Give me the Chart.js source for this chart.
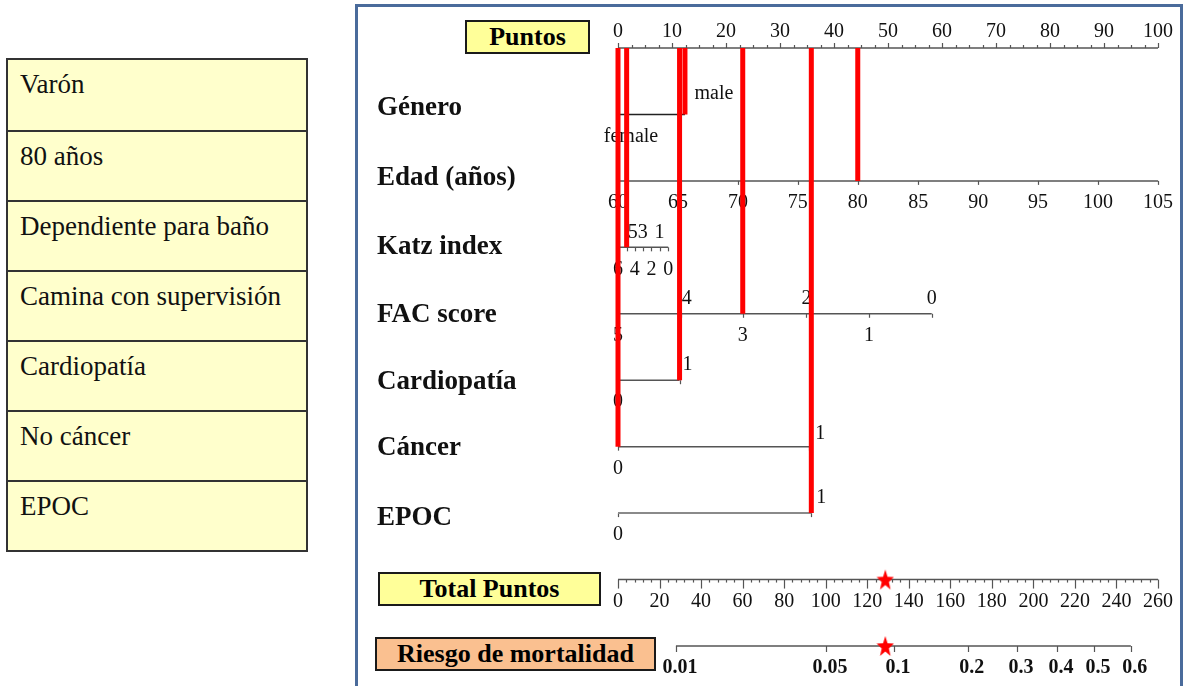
<!DOCTYPE html>
<html>
<head>
<meta charset="utf-8">
<title>Nomograma de riesgo de mortalidad</title>
<script src="https://cdn.jsdelivr.net/npm/chart.js@4.4.1/dist/chart.umd.min.js"></script>
<style>
  html, body { margin: 0; padding: 0; background: #fff; width: 1187px; height: 686px; overflow: hidden; }
  body { font-family: "Liberation Serif", "Times New Roman", serif; position: relative; }
  #frame { position: absolute; left: 355px; top: 4px; width: 822px; height: 720px; border: 3px solid #4a6b9b; }
  #plot { position: absolute; left: 0; top: 0; }
  .tag { position: absolute; box-sizing: border-box; border: 2px solid #1a1a1a; font-weight: bold;
         font-size: 26px; text-align: center; line-height: 29px; color: #000; }
  #profile { position: absolute; left: 6px; top: 58px; width: 302px; box-sizing: border-box;
             border: 2px solid #333; background: #ffffcc; }
  #profile div { height: 70px; border-top: 2px solid #333; padding: 9px 0 0 12px; box-sizing: border-box;
                 font-size: 27px; line-height: 30px; color: #111; }
  #profile div:first-child { border-top: none; padding-top: 9px; }
</style>
</head>
<body>
<div id="profile"></div>
<div id="frame"></div>
<canvas id="plot" width="1187" height="686"></canvas>
<div class="tag" style="left:465px;top:20px;width:125px;height:34px;background:#ffff99;">Puntos</div>
<div class="tag" style="left:378px;top:572px;width:223px;height:34px;background:#ffff99;">Total Puntos</div>
<div class="tag" style="left:375px;top:637px;width:281px;height:34px;background:#fac090;">Riesgo de mortalidad</div>
<script>
// ---- Nomogram scales: level -> points (0-100) ----
const pointTicks   = [0, 10, 20, 30, 40, 50, 60, 70, 80, 90, 100];
const sexLevels    = ['female', 'male'];
const sexPoints    = [0, 12.4];
const ageLevels    = [60, 65, 70, 75, 80, 85, 90, 95, 100, 105];
const agePoints    = [0, 11.1, 22.2, 33.3, 44.4, 55.6, 66.7, 77.8, 88.9, 100];
const katzLevels   = [6, 5, 4, 3, 2, 1, 0];
const katzPoints   = [0, 1.6, 3.1, 4.6, 6.2, 7.7, 9.3];
const facLevels    = [5, 4, 3, 2, 1, 0];
const facPoints    = [0, 11.6, 23.1, 34.9, 46.5, 58.1];
const cardioLevels = [0, 1];
const cardioPoints = [0, 11.4];
const cancerLevels = [0, 1];
const cancerPoints = [0, 35.4];
const epocLevels   = [0, 1];
const epocPoints   = [0, 35.8];

// ---- Total points and risk ----
const totalTicks = [0, 20, 40, 60, 80, 100, 120, 140, 160, 180, 200, 220, 240, 260];
const riskTicks  = [0.01, 0.05, 0.1, 0.2, 0.3, 0.4, 0.5, 0.6];
const riskIntercept = -5.232;   // logit(risk) = intercept + slope * total points
const riskSlope     = 0.02283;

// ---- Example patient ----
const profileText = ['Varón', '80 años', 'Dependiente para baño', 'Camina con supervisión', 'Cardiopatía', 'No cáncer', 'EPOC'];
const patient = { sex: 'male', age: 80, katz: 5, fac: 3, cardio: 1, cancer: 0, epoc: 1 };

// ---- profile table ----
const tbl = document.getElementById('profile');
profileText.forEach(t => { const d = document.createElement('div'); d.textContent = t; tbl.appendChild(d); });

// ---- rows of the nomogram (row index on the y scale) ----
const rows = [
  { key: 'sex',    row: 1, title: 'Género',      levels: sexLevels,    pts: sexPoints,    above: ['male'],  ticks: false, titleDy: 1 },
  { key: 'age',    row: 2, title: 'Edad (años)', levels: ageLevels,    pts: agePoints,    above: [],        ticks: true,  titleDy: 4 },
  { key: 'katz',   row: 3, title: 'Katz index',  levels: katzLevels,   pts: katzPoints,   above: [5, 3, 1], ticks: true,  titleDy: 7 },
  { key: 'fac',    row: 4, title: 'FAC score',   levels: facLevels,    pts: facPoints,    above: [4, 2, 0], ticks: true,  titleDy: 8 },
  { key: 'cardio', row: 5, title: 'Cardiopatía', levels: cardioLevels, pts: cardioPoints, above: [1],       ticks: true,  titleDy: 9 },
  { key: 'cancer', row: 6, title: 'Cáncer',      levels: cancerLevels, pts: cancerPoints, above: [1],       ticks: true,  titleDy: 8 },
  { key: 'epoc',   row: 7, title: 'EPOC',        levels: epocLevels,   pts: epocPoints,   above: [1],       ticks: true,  titleDy: 12 }
];
// small offsets of level labels (px), as laid out in the printed nomogram
const labelNudge = { 'sex:male': [29, -6], 'sex:female': [13, 0], 'katz:5': [6, 0], 'fac:4': [6, 0],
                     'cardio:1': [8, 0], 'cancer:1': [11, 2], 'epoc:1': [10, 0] };

const logit = p => Math.log(p / (1 - p));
const riskToTotal = p => (logit(p) - riskIntercept) / riskSlope;

// selected points per row and total
const selected = rows.map(r => r.pts[r.levels.indexOf(patient[r.key])]);
const patientTotal = selected.reduce((a, b) => a + b, 0);

// ---- filled star marker ----
function makeStar(w, h, color) {
  const c = document.createElement('canvas');
  c.width = w; c.height = h;
  const g = c.getContext('2d');
  g.fillStyle = color;
  g.beginPath();
  for (let i = 0; i < 10; i++) {
    const a = -Math.PI / 2 + i * Math.PI / 5;
    const r = i % 2 === 0 ? 1 : 0.42;
    const px = w / 2 + Math.cos(a) * r * w / 2;
    const py = h / 2 + 1 + Math.sin(a) * r * h / 2;
    i === 0 ? g.moveTo(px, py) : g.lineTo(px, py);
  }
  g.closePath();
  g.fill();
  return c;
}
const star = makeStar(18, 22, '#ff0000');

// ---- datasets ----
const AXIS = '#555555';
const datasets = [];
datasets.push({ data: [{ x: pointTicks[0], y: 0 }, { x: pointTicks[pointTicks.length - 1], y: 0 }],
                borderColor: AXIS, borderWidth: 1.5, order: 5 });
rows.forEach(r => {
  datasets.push({ data: [{ x: Math.min(...r.pts), y: r.row }, { x: Math.max(...r.pts), y: r.row }],
                  borderColor: r.key === 'epoc' ? '#8a8a8a' : (r.key === 'sex' ? '#222' : AXIS),
                  borderWidth: r.key === 'epoc' ? 2 : 1.5, order: 5 });
});
datasets.push({ xAxisID: 'xTotal', data: [{ x: totalTicks[0], y: 8 }, { x: totalTicks[totalTicks.length - 1], y: 8 }],
                borderColor: AXIS, borderWidth: 1.5, order: 5 });
datasets.push({ xAxisID: 'xTotal', data: [{ x: riskToTotal(riskTicks[0]), y: 9 }, { x: riskToTotal(riskTicks[riskTicks.length - 1]), y: 9 }],
                borderColor: AXIS, borderWidth: 1.5, order: 5 });
// red reading lines from the points scale down to each selected level
rows.forEach((r, i) => {
  datasets.push({ data: [{ x: selected[i], y: 0 }, { x: selected[i], y: r.row }],
                  borderColor: '#ff0000', borderWidth: 5, order: 1 });
});
// stars on total points and risk
datasets.push({ xAxisID: 'xTotal', data: [{ x: patientTotal, y: 8 }, { x: patientTotal, y: 9 }],
                showLine: false, pointStyle: star, pointRadius: 11, order: 0 });
datasets.forEach(d => {
  d.clip = false;
  if (d.showLine === undefined) { d.showLine = true; d.pointRadius = 0; }
  if (!d.xAxisID) d.xAxisID = 'x';
});

// ---- ticks, labels and titles ----
const SERIF = '"Liberation Serif", "Times New Roman", serif';
const nomogramText = {
  id: 'nomogramText',
  beforeDatasetsDraw(chart) {
    const ctx = chart.ctx, xs = chart.scales.x, xt = chart.scales.xTotal, ys = chart.scales.y;
    const tick = (px, py, len) => { ctx.beginPath(); ctx.moveTo(px, py); ctx.lineTo(px, py + len); ctx.stroke(); };
    ctx.save();
    ctx.strokeStyle = AXIS; ctx.lineWidth = 1.2; ctx.fillStyle = '#111';
    ctx.textAlign = 'center'; ctx.textBaseline = 'middle';

    // points scale
    const y0 = ys.getPixelForValue(0);
    for (let v = 0; v <= 100; v += 2.5) {
      tick(Math.round(xs.getPixelForValue(v)) + 0.5, y0, v % 10 === 0 ? -5 : -3);
    }
    ctx.font = '20px ' + SERIF;
    pointTicks.forEach(v => ctx.fillText(String(v), xs.getPixelForValue(v), y0 - 16));

    // variable rows
    rows.forEach(r => {
      const py = ys.getPixelForValue(r.row);
      ctx.font = 'bold 27px ' + SERIF; ctx.textAlign = 'left'; ctx.textBaseline = 'alphabetic';
      ctx.fillText(r.title, 377, py + r.titleDy);
      ctx.font = '20px ' + SERIF; ctx.textAlign = 'center'; ctx.textBaseline = 'middle';
      r.levels.forEach((lv, i) => {
        const px = xs.getPixelForValue(r.pts[i]);
        if (r.ticks) tick(Math.round(px) + 0.5, py, 4);
        const up = r.above.includes(lv);
        const n = labelNudge[r.key + ':' + lv] || [0, 0];
        ctx.fillText(String(lv), px + n[0], (up ? py - 15 : py + 22) + n[1]);
      });
    });

    // total points scale
    const y8 = ys.getPixelForValue(8);
    for (let v = 0; v <= 260; v += 4) {
      if (v % 20 !== 0) tick(Math.round(xt.getPixelForValue(v)) + 0.5, y8, 3);
    }
    totalTicks.forEach(v => {
      const px = xt.getPixelForValue(v);
      tick(Math.round(px) + 0.5, y8, 9);
      ctx.fillText(String(v), px, y8 + 22);
    });

    // mortality risk scale
    const y9 = ys.getPixelForValue(9);
    ctx.font = 'bold 20px ' + SERIF;
    riskTicks.forEach(p => {
      const px = xt.getPixelForValue(riskToTotal(p));
      tick(Math.round(px) + 0.5, y9, 6);
      ctx.fillText(String(p), px + 4, y9 + 22);
    });
    ctx.restore();
  }
};

new Chart(document.getElementById('plot'), {
  type: 'scatter',
  data: { datasets },
  options: {
    responsive: false,
    animation: false,
    events: [],
    layout: { padding: { left: 618, right: 29, top: 48, bottom: 40 } },
    plugins: { legend: { display: false }, tooltip: { enabled: false } },
    scales: {
      x:      { type: 'linear', min: 0, max: 100, display: false },
      xTotal: { type: 'linear', axis: 'x', min: 0, max: 260, display: false },
      y:      { type: 'linear', min: 0, max: 9, reverse: true, display: false }
    }
  },
  plugins: [nomogramText]
});
</script>
</body>
</html>
